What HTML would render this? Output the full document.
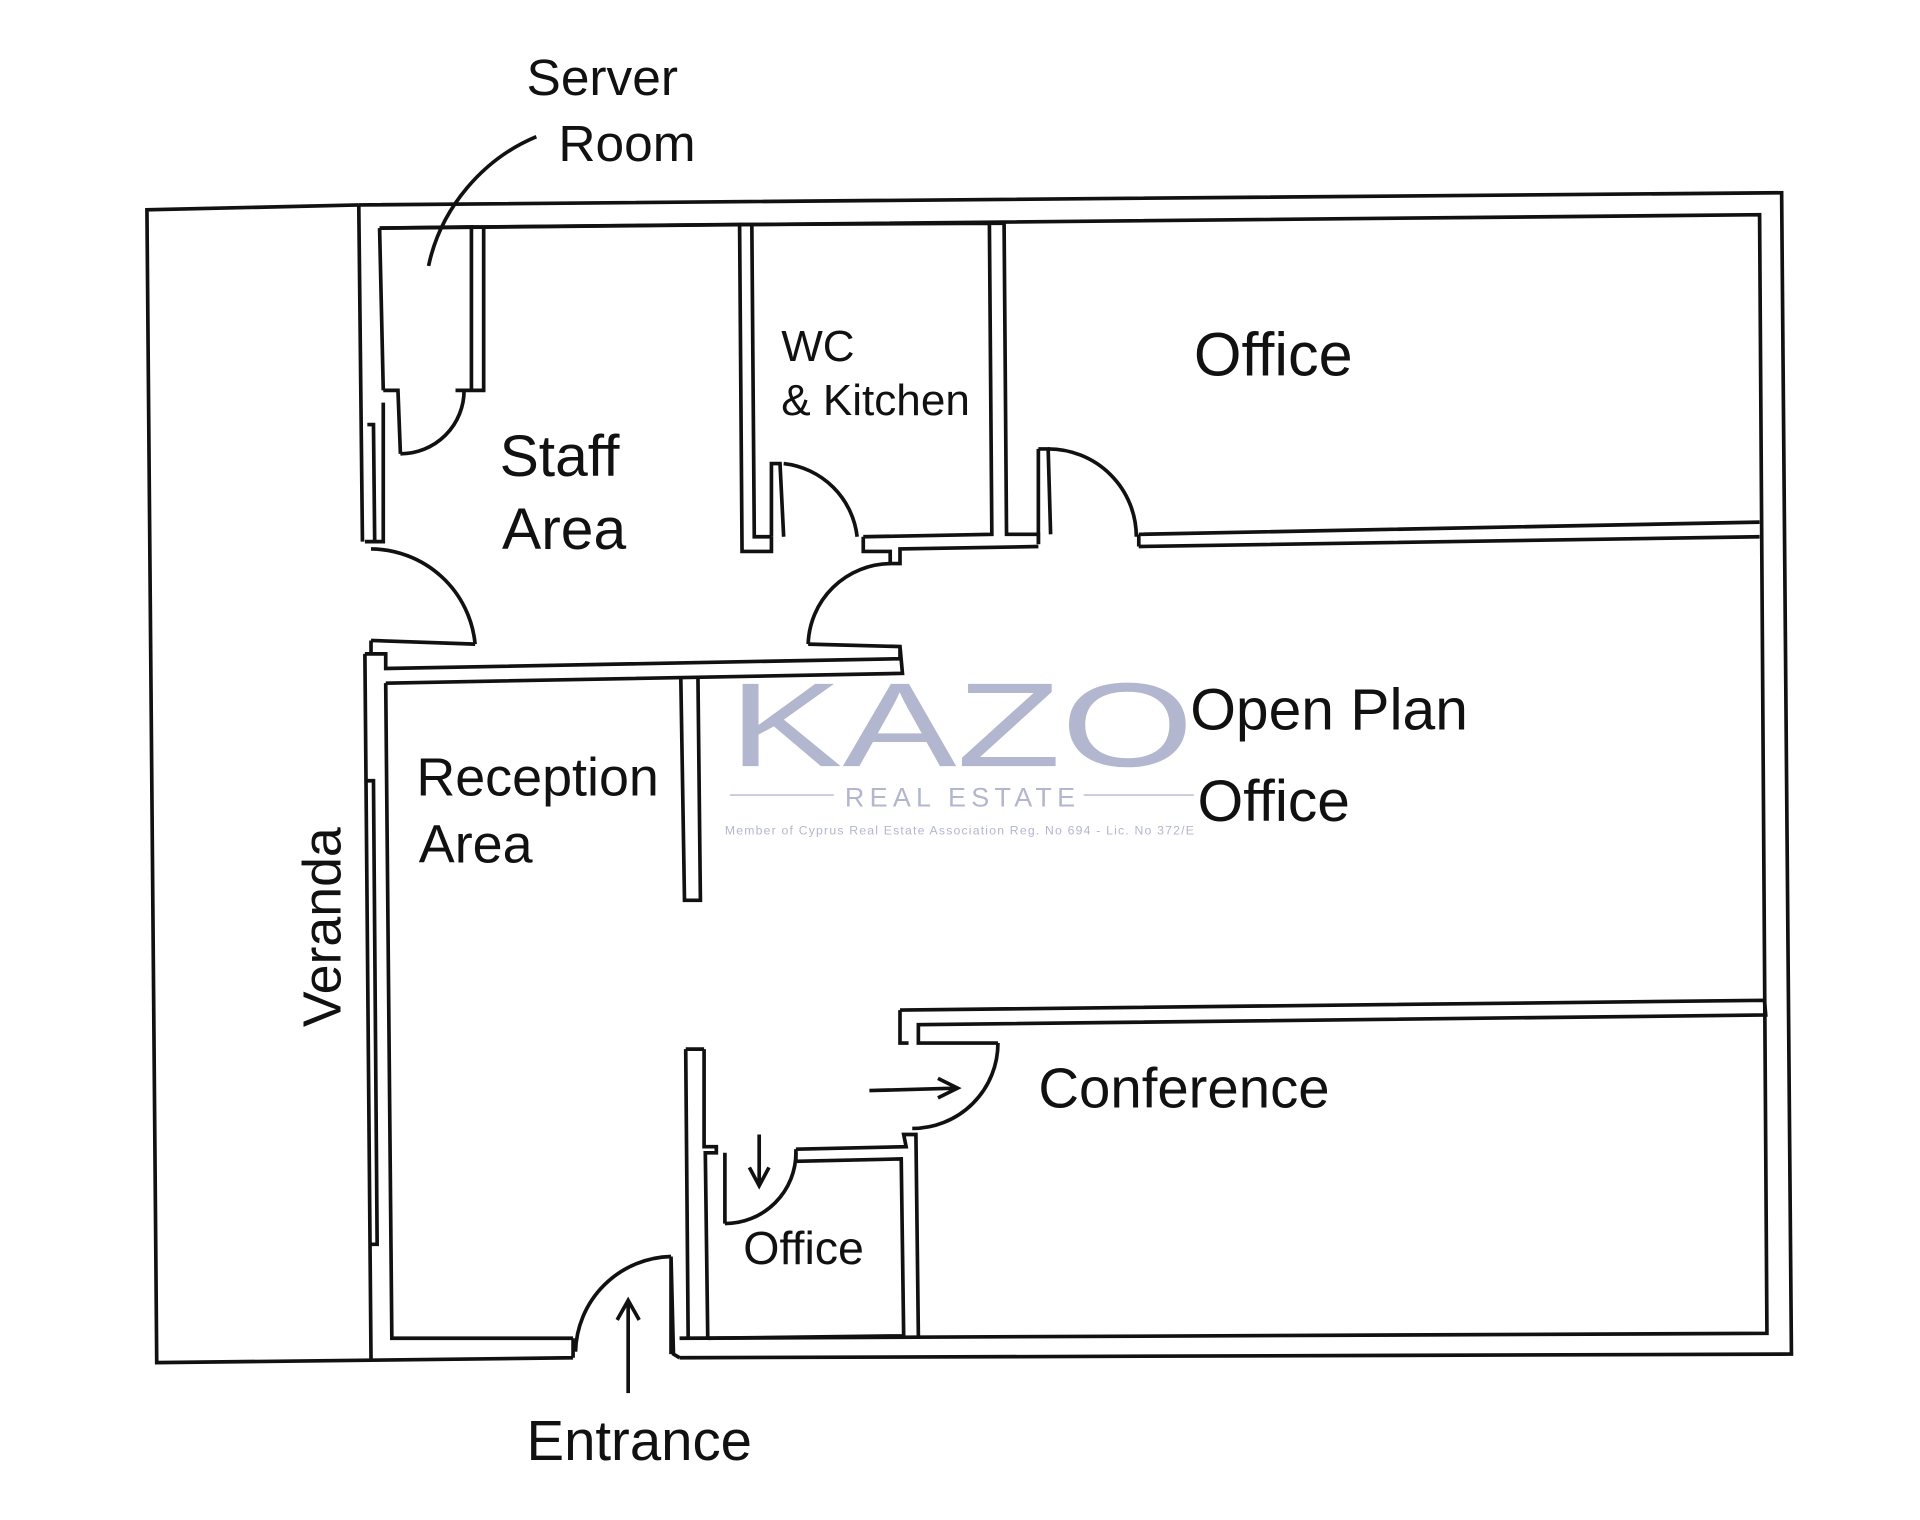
<!DOCTYPE html>
<html><head><meta charset="utf-8"><style>
html,body{margin:0;padding:0;background:#fff;width:1920px;height:1520px;overflow:hidden}
svg{display:block}
text{font-family:"Liberation Sans","DejaVu Sans",sans-serif;fill:#111}
</style></head><body>
<svg width="1920" height="1520" viewBox="0 0 1568 1246" preserveAspectRatio="none" xmlns="http://www.w3.org/2000/svg">
<g fill="none" stroke="#111" stroke-width="3" stroke-linejoin="miter">
<path d="M293 168 L120 172 L128 1117 L303 1115"/>
<path d="M293 168 L1455 158 L1463 1110 L555 1113"/>
<path d="M310 187 L1437 176 L1443 1093 L555 1097"/>
<path d="M293 168 L296 444 M310 187 L313 320"/>
<path d="M298 536 L303 1115 L468 1113 M315 560 L320 1097 L468 1097 M468 1097 L468 1113"/>
<path d="M300 640 L305 640 L308 1020 L303 1020 M300 348 L305 348 L306 444 M313 320 L325 320 L327 372 M313 330 L313 444 L298 444"/>
<path d="M548 1030 L550 1110 L555 1113 M548 1030 L548 1110"/>
<path d="M310 187 L385 186 L385 320 L372 320 M395 186 L395 320 L382 320 M385 186 L395 186"/>
<path d="M395 186 L604 184 L606 452 L630 452 L630 440 M614 184 L616 440 L630 440"/>
<path d="M614 184 L808 183 L810 438 L705 440 M604 184 L614 184 M820 183 L822 438 L848 438 L848 446 M808 183 L820 183"/>
<path d="M630 440 L630 380 L637 380 L640 440"/>
<path d="M705 440 L705 452 L727 452 L727 462 L735 462 L735 450 L848 448"/>
<path d="M848 368 L856 368 L858 438 M848 368 L848 446 M930 438 L1437 428 M930 448 L1437 440 M930 438 L930 448"/>
<path d="M303 525 L388 528 M303 536 L303 525 M660 528 L735 530 L737 552 L315 560 M735 530 L735 540 L315 548 L315 536 L298 536"/>
<path d="M556 556 L559 738 L572 738 L570 556"/>
<path d="M735 828 L1441 820 L1442 832 L750 840 L750 855 L815 855 M735 828 L735 855 L742 855"/>
<path d="M560 860 L562 1097 M575 860 L575 940 L585 940 L585 945 L576 945 L578 1097 M560 860 L575 860"/>
<path d="M650 942 L740 940 L738 930 L748 930 L750 1095 M650 952 L736 950 L738 1095 L578 1097 M650 942 L650 952 M592 945 L592 1003"/>
<path d="M327 372 A52 52 0 0 0 379 320"/>
<path d="M303 450 A86 86 0 0 1 388 528"/>
<path d="M640 380 A68 68 0 0 1 700 440"/>
<path d="M727 462 A68 68 0 0 0 660 528"/>
<path d="M856 368 A72 72 0 0 1 928 440"/>
<path d="M815 855 A70 70 0 0 1 745 925"/>
<path d="M592 1003 A58 58 0 0 0 650 945"/>
<path d="M548 1030 A80 80 0 0 0 470 1108"/>
<path d="M438 112 C395 130 360 170 350 218"/>
<path d="M513 1142 L513 1068 M504 1082 L513 1066 L522 1082"/>
<path d="M710 894 L780 892 M766 884 L782 892 L766 900"/>
<path d="M620 930 L620 970 M612 957 L620 972 L628 957"/>
</g>
<g>
<text x="595" y="628" font-size="98" textLength="380" lengthAdjust="spacingAndGlyphs" style="fill:#b3b6cf">KAZO</text>
<text x="690" y="661" font-size="22" textLength="188" style="fill:#b3b6cf">REAL ESTATE</text>
<text x="592" y="684" font-size="10" textLength="383" style="fill:#b3b6cf">Member of Cyprus Real Estate Association    Reg. No 694 - Lic. No 372/E</text>
<rect x="596" y="651" width="85" height="1.5" style="fill:#c8cadb"/>
<rect x="885" y="651" width="90" height="1.5" style="fill:#c8cadb"/>
</g>
<text x="430" y="78" font-size="42">Server</text>
<text x="456" y="132" font-size="42">Room</text>
<text x="638" y="296" font-size="36">WC</text>
<text x="638" y="340" font-size="36">&amp; Kitchen</text>
<text x="975" y="308" font-size="50">Office</text>
<text x="408" y="390" font-size="48">Staff</text>
<text x="410" y="450" font-size="48">Area</text>
<text x="972" y="598" font-size="48">Open Plan</text>
<text x="978" y="673" font-size="48">Office</text>
<text x="340" y="652" font-size="44">Reception</text>
<text x="342" y="707" font-size="44">Area</text>
<text x="848" y="908" font-size="46">Conference</text>
<text x="607" y="1036" font-size="38">Office</text>
<text x="430" y="1197" font-size="46">Entrance</text>
<text x="0" y="0" font-size="44" transform="translate(278 842) rotate(-90)">Veranda</text>
</svg>
</body></html>
